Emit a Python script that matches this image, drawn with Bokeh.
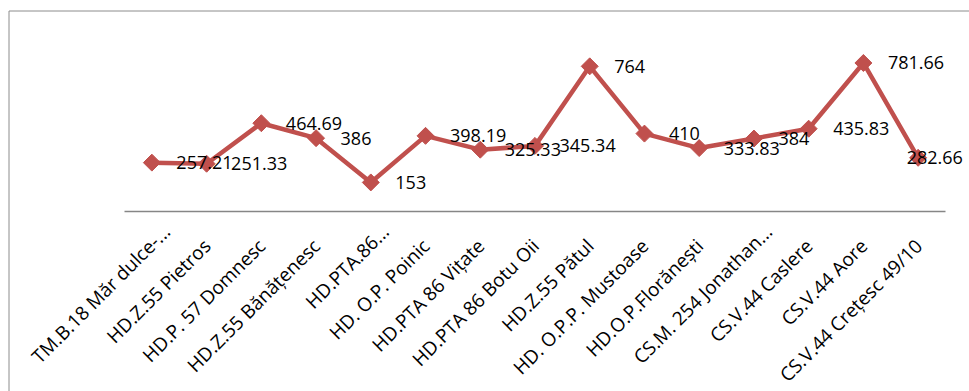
import math
from bokeh.plotting import figure
from bokeh.models import Range1d, ColumnDataSource
from bokeh.core.properties import value
from bokeh.embed import file_html
from bokeh.resources import INLINE

# ---------------- data ----------------
categories = [
    "TM.B.18 Măr dulce-...",
    "HD.Z.55 Pietros",
    "HD.P. 57 Domnesc",
    "HD.Z.55 Bănățenesc",
    "HD.PTA.86...",
    "HD. O.P. Poinic",
    "HD.PTA 86 Vițate",
    "HD.PTA 86 Botu Oii",
    "HD.Z.55 Pătul",
    "HD. O.P.P. Mustoase",
    "HD.O.P.Florănești",
    "CS.M. 254 Jonathan...",
    "CS.V.44 Caslere",
    "CS.V.44 Aore",
    "CS.V.44 Crețesc 49/10",
]
values = [257.21, 251.33, 464.69, 386, 153, 398.19, 325.33, 345.34,
          764, 410, 333.83, 384, 435.83, 781.66, 282.66]
value_labels = [f"{v:g}" for v in values]

# ---------------- layout / style ----------------
W, H = 969, 391
FONT = "Open Sans"
RED = "#C0504D"
AXIS_Y_PX = 211            # pixel row of the category axis (value 0)
AXIS_L_PX, AXIS_R_PX = 124, 945
PLOT_TOP_PX = 40           # pixel row of the (hidden) value axis max
Y_AXIS_MAX = 900
CAT_W = (AXIS_R_PX - AXIS_L_PX) / len(categories)
K = (AXIS_Y_PX - PLOT_TOP_PX) / Y_AXIS_MAX   # px per value unit

n = len(categories)
idx = list(range(n))

x_range = Range1d(-0.5 - AXIS_L_PX / CAT_W, n - 0.5 + (W - AXIS_R_PX) / CAT_W)
y_range = Range1d(-(H - AXIS_Y_PX) / K, AXIS_Y_PX / K)


def data_x(px):
    return -0.5 + (px - AXIS_L_PX) / CAT_W


def data_y(py):
    return (AXIS_Y_PX - py) / K


p = figure(width=W, height=H, x_range=x_range, y_range=y_range,
           output_backend="svg", toolbar_location=None, title=None,
           x_axis_location=None, y_axis_location=None, min_border=0,
           background_fill_color="white", border_fill_color="white")
p.grid.visible = False
p.outline_line_color = None

# chart-area border (left and top edges visible in the window)
p.segment(x0=[data_x(8.5), data_x(8.5)], y0=[data_y(10.5), data_y(10.5)],
          x1=[data_x(8.5), data_x(W)], y1=[data_y(H), data_y(10.5)],
          line_color="#8c8c8c", line_width=1)

# category axis line
p.segment(x0=[-0.5], y0=[0], x1=[n - 0.5], y1=[0],
          line_color="#868686", line_width=1.5)

# series
src = ColumnDataSource(dict(x=idx, y=values, lab=value_labels,
                            dx=[24.5] * (n - 1) + [-11.5]))
p.line("x", "y", source=src, line_color=RED, line_width=4.5, line_join="round")
p.scatter("x", "y", source=src, marker="square", size=12, angle=math.pi / 4,
          fill_color=RED, line_color=RED)
p.text("x", "y", text="lab", source=src, x_offset="dx",
       text_align="left", text_baseline="middle",
       text_font=value(FONT), text_font_size="18px", text_color="black")

# rotated category labels
DROP_PX = 31       # baseline end below the axis
HANG_PX = 20       # truncated labels overhang along the text direction
cx, cy = [], []
for i, c in enumerate(categories):
    hang = HANG_PX if c.endswith("...") else 0
    d = hang * math.cos(math.pi / 4)
    px = AXIS_L_PX + CAT_W * (i + 0.5) + 0.5 + d
    py = AXIS_Y_PX + DROP_PX - d
    cx.append(data_x(px))
    cy.append(data_y(py))
csrc = ColumnDataSource(dict(x=cx, y=cy, t=categories))
p.text("x", "y", text="t", source=csrc, angle=math.pi / 4,
       text_align="right", text_baseline="alphabetic",
       text_font=value(FONT), text_font_size="19px", text_color="black")

open("out.html", "w").write(file_html(p, INLINE))
